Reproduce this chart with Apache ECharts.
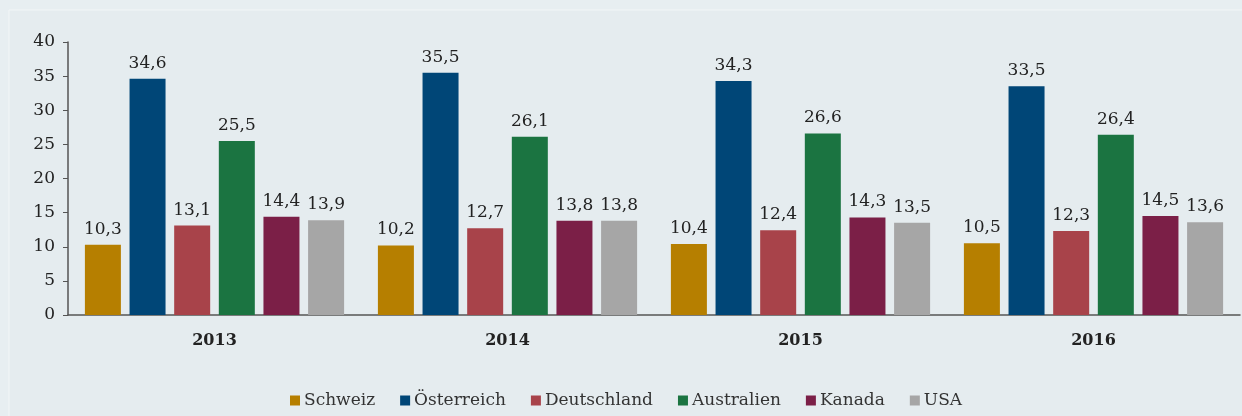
<!DOCTYPE html>
<html>
<head>
<meta charset="utf-8">
<script src="https://cdn.jsdelivr.net/npm/echarts@6/dist/echarts.min.js"></script>
<style>
  html, body { margin: 0; padding: 0; background: #e7eef1; }
  #chart { width: 1242px; height: 416px; }
</style>
</head>
<body>
<div id="chart"></div>
<script>
const years = ["2013", "2014", "2015", "2016"];
const countries = ["Schweiz", "Österreich", "Deutschland", "Australien", "Kanada", "USA"];
const colors = ["#b67f00", "#004677", "#a8434a", "#1b7441", "#7b1f47", "#a6a6a6"];
const schweiz = [10.3, 10.2, 10.4, 10.5];
const oesterreich = [34.6, 35.5, 34.3, 33.5];
const deutschland = [13.1, 12.7, 12.4, 12.3];
const australien = [25.5, 26.1, 26.6, 26.4];
const kanada = [14.4, 13.8, 14.3, 14.5];
const usa = [13.9, 13.8, 13.5, 13.6];
const values = [schweiz, oesterreich, deutschland, australien, kanada, usa];

const serif = "'DejaVu Serif', 'Liberation Serif', serif";
const chart = echarts.init(document.getElementById("chart"), null, { renderer: "canvas" });

chart.setOption({
  animation: false,
  backgroundColor: "#e7eef1",
  color: colors,
  textStyle: { fontFamily: serif },
  graphic: [{
    type: "rect",
    silent: true,
    z: -10,
    shape: { x: 9, y: 10, width: 1240, height: 420 },
    style: { fill: "#e5ecef", stroke: "#f2f6f7", lineWidth: 1 }
  }],
  grid: { left: 68, right: 2, top: 42, bottom: 101 },
  legend: {
    data: countries,
    left: 285,
    bottom: 2,
    itemWidth: 10,
    itemHeight: 10,
    itemGap: 25,
    icon: "rect",
    textStyle: { fontFamily: serif, fontSize: 17, color: "#333", padding: [0, 0, 0, -1] }
  },
  xAxis: {
    type: "category",
    data: years,
    axisLine: { lineStyle: { color: "#555", width: 1.5 } },
    axisTick: { show: false },
    axisLabel: { color: "#222", fontSize: 16, fontWeight: "bold", margin: 18, fontFamily: serif }
  },
  yAxis: {
    type: "value",
    min: 0,
    max: 40,
    interval: 5,
    axisLine: { show: true, lineStyle: { color: "#555", width: 1.5 } },
    axisTick: { show: true, length: 5, lineStyle: { color: "#555" } },
    axisLabel: { color: "#222", fontSize: 17, margin: 13, fontFamily: serif },
    splitLine: { show: false }
  },
  series: countries.map((name, i) => ({
    name,
    type: "bar",
    data: values[i],
    barWidth: 36,
    barGap: "24%",
    itemStyle: { color: colors[i] },
    label: {
      show: true,
      position: "top",
      distance: 7,
      color: "#222",
      fontSize: 17,
      fontFamily: serif,
      formatter: (p) => p.value.toFixed(1).replace(".", ",")
    }
  }))
});
</script>
</body>
</html>
